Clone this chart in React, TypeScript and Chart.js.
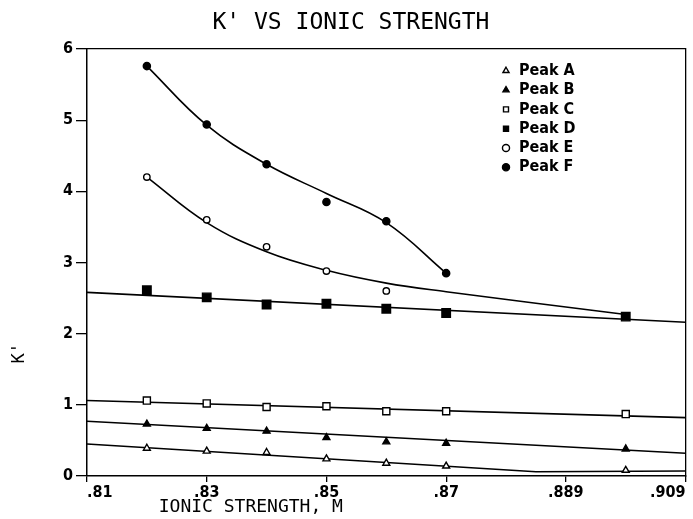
import { useEffect, useRef } from 'react';
import { Chart, registerables } from 'chart.js';

Chart.register(...registerables);

// ---- data ----
const X_VALUES = [0.82, 0.83, 0.84, 0.85, 0.86, 0.87, 0.90];
const PEAK_A = [0.39, 0.35, 0.33, 0.24, 0.18, 0.14, 0.08];
const PEAK_B = [0.73, 0.67, 0.63, 0.54, 0.48, 0.46, 0.38];
const PEAK_C = [1.06, 1.02, 0.97, 0.98, 0.91, 0.91, 0.87];
const PEAK_D = [2.61, 2.51, 2.41, 2.42, 2.35, 2.29, 2.24];
const PEAK_E = [4.20, 3.60, 3.22, 2.88, 2.60, null, null];
const PEAK_F = [5.76, 4.94, 4.38, 3.85, 3.58, 2.85, null];
const PEAK_LABELS = ['Peak A', 'Peak B', 'Peak C', 'Peak D', 'Peak E', 'Peak F'];

// fitted lines / curves drawn through the points
const FIT_A_X = [0.81, 0.885, 0.91];
const FIT_A_Y = [0.45, 0.06, 0.07];
const FIT_B_X = [0.81, 0.91];
const FIT_B_Y = [0.77, 0.32];
const FIT_C_X = [0.81, 0.91];
const FIT_C_Y = [1.06, 0.82];
const FIT_D_X = [0.81, 0.91];
const FIT_D_Y = [2.58, 2.16];
const FIT_E_X = [0.82, 0.83, 0.84, 0.85, 0.86, 0.87, 0.90];
const FIT_E_Y = [4.20, 3.56, 3.15, 2.89, 2.71, 2.59, 2.27];
const FIT_F_X = [0.82, 0.83, 0.84, 0.85, 0.86, 0.87];
const FIT_F_Y = [5.76, 4.93, 4.38, 3.97, 3.56, 2.85];
const FIT_TENSION = [0, 0, 0, 0, 0.4, 0.4];

const X_TICK_VALUES = [0.81, 0.83, 0.85, 0.87, 0.89, 0.91];
const X_TICK_LABELS = ['.81', '.83', '.85', '.87', '.889', '.909'];
const Y_TICK_VALUES = [0, 1, 2, 3, 4, 5, 6];

const TITLE = "K' VS IONIC STRENGTH";
const X_TITLE = 'IONIC STRENGTH, M';
const Y_TITLE = "K'";

const NARROW = "'Liberation Sans Narrow', 'Arial Narrow', 'DejaVu Sans Condensed', sans-serif";
const MONO = "'DejaVu Sans Mono', monospace";

const pts = (xs: number[], ys: (number | null)[]) =>
  xs.map((x, i) => ({ x, y: ys[i] })).filter((p) => p.y !== null);

const markerStyles = [
  { pointStyle: 'triangle', r: 4, fill: '#fff' },
  { pointStyle: 'triangle', r: 4, fill: '#000' },
  { pointStyle: 'rect', r: 5, fill: '#fff' },
  { pointStyle: 'rect', r: 6, fill: '#000' },
  { pointStyle: 'circle', r: 3.2, fill: '#fff' },
  { pointStyle: 'circle', r: 3.6, fill: '#000' },
];

const legendMover = {
  id: 'legendMover',
  afterLayout(chart: any) {
    const lg = chart.legend;
    if (!lg) return;
    const h = lg.height;
    const w = lg.width;
    lg.left = 497.7;
    lg.right = 497.7 + w;
    lg.top = 59.5;
    lg.bottom = 59.5 + h;
  },
};

export default function App() {
  const ref = useRef<HTMLCanvasElement>(null);
  useEffect(() => {
    const series = [PEAK_A, PEAK_B, PEAK_C, PEAK_D, PEAK_E, PEAK_F];
    const markerSets = series.map((ys, i) => ({
      label: PEAK_LABELS[i],
      data: pts(X_VALUES, ys),
      showLine: false,
      pointStyle: markerStyles[i].pointStyle,
      pointRadius: markerStyles[i].r,
      pointBackgroundColor: markerStyles[i].fill,
      backgroundColor: markerStyles[i].fill,
      pointBorderColor: '#000',
      borderColor: '#000',
      pointBorderWidth: 1.4,
      borderWidth: 1.4,
    }));
    const fits = [
      [FIT_A_X, FIT_A_Y],
      [FIT_B_X, FIT_B_Y],
      [FIT_C_X, FIT_C_Y],
      [FIT_D_X, FIT_D_Y],
      [FIT_E_X, FIT_E_Y],
      [FIT_F_X, FIT_F_Y],
    ].map(([xs, ys], i) => ({
      label: '',
      data: pts(xs as number[], ys as number[]),
      showLine: true,
      pointRadius: 0,
      borderColor: '#000',
      borderWidth: 1.6,
      tension: FIT_TENSION[i],
      fill: false,
    }));

    const chart = new Chart(ref.current!, {
      type: 'scatter',
      data: { datasets: [...markerSets, ...fits] as any },
      plugins: [legendMover],
      options: {
        animation: false,
        responsive: true,
        maintainAspectRatio: false,
        devicePixelRatio: 1,
        events: [],
        layout: { padding: { left: 0, right: 5, top: 0, bottom: 0 } },
        plugins: {
          tooltip: { enabled: false },
          title: {
            display: true,
            text: ' ' + TITLE,
            color: '#000',
            font: { family: MONO, size: 23, weight: 'normal', lineHeight: 1 },
            padding: { top: 12, bottom: 14 },
          },
          legend: {
            display: true,
            position: 'chartArea',
            align: 'start',
            labels: {
              usePointStyle: true,
              boxWidth: 10,
              boxHeight: 5,
              padding: 3.3,
              color: '#000',
              font: { family: NARROW, size: 16, weight: 'bold' },
              filter: (item: any) => item.datasetIndex < 6,
            },
          },
        },
        scales: {
          x: {
            type: 'linear',
            position: 'bottom',
            min: 0.81,
            max: 0.91,
            afterBuildTicks: (s: any) => {
              s.ticks = X_TICK_VALUES.map((v) => ({ value: v }));
            },
            afterFit: (s: any) => {
              s.height = 43;
              s.paddingLeft = 0;
              s.paddingRight = 0;
            },
            ticks: {
              autoSkip: false,
              maxRotation: 0,
              align: 'inner',
              padding: 1,
              color: '#000',
              font: { family: NARROW, size: 16, weight: 'bold' },
              callback: (_v: any, i: number) => X_TICK_LABELS[i],
            },
            grid: { drawOnChartArea: false, drawTicks: true, tickLength: 6, color: '#000', lineWidth: 1.3 },
            border: { display: true, color: '#000', width: 1.5 },
            title: {
              display: true,
              text: X_TITLE + ' '.repeat(25),
              align: 'center',
              color: '#000',
              font: { family: MONO, size: 18, lineHeight: 1.2 },
              padding: { top: 0, bottom: 1 },
            },
          },
          y: {
            type: 'linear',
            position: 'left',
            min: 0,
            max: 6,
            afterBuildTicks: (s: any) => {
              s.ticks = Y_TICK_VALUES.map((v) => ({ value: v }));
            },
            afterFit: (s: any) => {
              s.width = 87;
              s.paddingTop = 0;
              s.paddingBottom = 0;
            },
            ticks: {
              padding: 3,
              color: '#000',
              font: { family: NARROW, size: 16, weight: 'bold' },
            },
            grid: { drawOnChartArea: false, drawTicks: true, tickLength: 11, color: '#000', lineWidth: 1.3 },
            border: { display: true, color: '#000', width: 1.5 },
            title: {
              display: true,
              text: ' '.repeat(11) + Y_TITLE,
              align: 'start',
              color: '#000',
              font: { family: MONO, size: 17, lineHeight: 1.2 },
              padding: { top: 9, bottom: 0 },
            },
          },
          x2: {
            type: 'linear',
            position: 'top',
            min: 0.81,
            max: 0.91,
            afterFit: (s: any) => {
              s.height = 0;
            },
            ticks: { display: false },
            grid: { display: false, drawTicks: false },
            border: { display: true, color: '#000', width: 1.3 },
          },
          y2: {
            type: 'linear',
            position: 'right',
            min: 0,
            max: 6,
            afterFit: (s: any) => {
              s.width = 0;
            },
            ticks: { display: false },
            grid: { display: false, drawTicks: false },
            border: { display: true, color: '#000', width: 1.3 },
          },
        },
      } as any,
    });
    return () => chart.destroy();
  }, []);

  return (
    <div style={{ position: 'fixed', left: 0, top: 0, width: 693, height: 519, background: '#fff' }}>
      <canvas ref={ref} />
    </div>
  );
}
